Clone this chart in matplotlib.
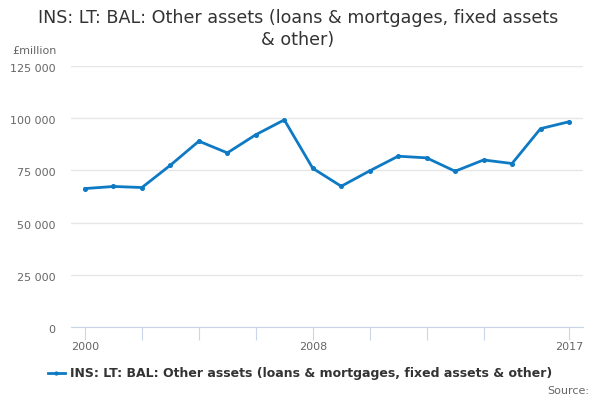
import matplotlib
matplotlib.use("Agg")
import matplotlib.pyplot as plt
import matplotlib.transforms as mtransforms
from matplotlib.ticker import FuncFormatter

years = list(range(2000, 2018))
values = [66300, 67300, 66800, 77500, 89000, 83400, 92100, 99200, 76000,
          67400, 74800, 81800, 81000, 74600, 80000, 78300, 95000, 98300]
tick_years = [2000, 2002, 2004, 2006, 2008, 2010, 2012, 2014, 2017]
label_years = [2000, 2008, 2017]
yticks = [0, 25000, 50000, 75000, 100000, 125000]

title_lines = ["INS: LT: BAL: Other assets (loans & mortgages, fixed assets", "& other)"]
series_name = "INS: LT: BAL: Other assets (loans & mortgages, fixed assets & other)"

plt.rcParams['font.family'] = ['DejaVu Sans']
fig = plt.figure(figsize=(6, 4), dpi=100)
W, H = 600, 400
left, right, top, bottom = 71, 583, 66, 327
ax = fig.add_axes([left / W, 1 - bottom / H, (right - left) / W, (bottom - top) / H])

color = "#0e7ac4"
ax.plot(years, values, color=color, linewidth=2, marker='o', markersize=2.6,
        label=series_name, zorder=3)

ax.set_ylim(0, 125000)
x_pad = (2017 - 2000) * (85 - 71) / (569 - 85)
x_pad_r = (2017 - 2000) * (583 - 569) / (569 - 85)
ax.set_xlim(2000 - x_pad, 2017 + x_pad_r)

ax.set_yticks(yticks)
ax.yaxis.set_major_formatter(FuncFormatter(lambda v, p: f"{int(v):,}".replace(",", " ")))
ax.set_xticks(tick_years)
ax.set_xticklabels([str(y) if y in label_years else "" for y in tick_years])

ax.grid(axis='y', color="#e6e6e6", linewidth=1)
ax.set_axisbelow(True)
for s in ['top', 'right', 'left']:
    ax.spines[s].set_visible(False)
ax.spines['bottom'].set_color("#ccd6eb")
ax.tick_params(axis='y', length=0, labelsize=8, labelcolor="#666666", pad=11)
ax.tick_params(axis='x', length=9, color="#ccd6eb", labelsize=8, labelcolor="#666666", pad=2)

offset = mtransforms.ScaledTranslation(0, -2 / 100, fig.dpi_scale_trans)
for lbl in ax.get_yticklabels():
    lbl.set_transform(lbl.get_transform() + offset)

fig.text(298 / W, 1 - 18 / H, title_lines[0], ha='center', va='center',
         fontsize=12.6, color="#333333")
fig.text(298 / W, 1 - 40 / H, title_lines[1], ha='center', va='center',
         fontsize=12.6, color="#333333")
fig.text(12 / W, 1 - 51 / H, "£million", fontsize=8, color="#666666", ha='left', va='center')

leg = fig.legend(handles=ax.get_lines(), loc='center', bbox_to_anchor=(300 / W, 1 - 374 / H),
                 frameon=False, prop={'weight': 'bold', 'size': 9}, handlelength=1.3,
                 handletextpad=0.4, markerscale=0.8)
for t in leg.get_texts():
    t.set_color("#333333")
fig.text(589 / W, 1 - 391 / H, "Source:", fontsize=8, color="#666666", ha='right', va='center')

fig.savefig("out.png", dpi=100)
